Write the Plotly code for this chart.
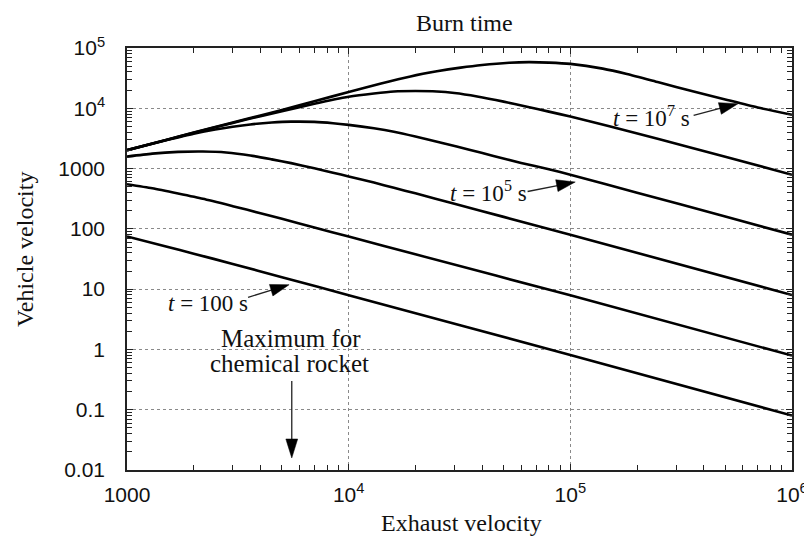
import plotly.graph_objects as go
import math

# ---------------- data ----------------
burn_times = ["100 s", "1000 s", "1e4 s", "1e5 s", "1e6 s", "1e7 s"]

u_t100 = [1000, 1500, 2000, 3000, 5000, 10000, 100000, 1000000]
v_t100 = [75, 51, 38.8, 26.2, 15.8, 7.95, 0.81, 0.08]

u_t1e3 = [1000, 1300, 1700, 2200, 3000, 4000, 5000, 7000, 10000, 20000, 100000, 1000000]
v_t1e3 = [550, 470, 385, 315, 238, 182, 147, 105, 74.5, 37.8, 7.9, 0.79]

u_t1e4 = [1000, 1300, 1700, 2200, 2800, 3600, 4500, 5500, 7000, 8500, 10000, 13000,
          16000, 20000, 30000, 50000, 100000, 1000000]
v_t1e4 = [1580, 1770, 1890, 1920, 1850, 1650, 1420, 1230, 1010, 855, 740, 585,
          480, 388, 261, 158, 80, 8]

u_t1e5 = [1000, 1500, 2000, 2500, 3000, 3600, 4500, 5500, 7000, 8500, 10000, 13000,
          16000, 20000, 27000, 35000, 45000, 60000, 80000, 100000, 200000, 500000, 1000000]
v_t1e5 = [2020, 2950, 3800, 4450, 4950, 5400, 5800, 6000, 5950, 5650, 5300, 4650,
          4080, 3400, 2600, 2060, 1620, 1240, 975, 790, 398, 160, 80]

u_t1e6 = [1000, 1500, 2000, 3000, 4000, 5000, 7000, 10000, 13000, 16000, 20000, 25000,
          30000, 38000, 50000, 63000, 80000, 100000, 150000, 250000, 500000, 1000000]
v_t1e6 = [2020, 2980, 3920, 5720, 7400, 8950, 11900, 15500, 17600, 19000, 19300, 19000,
          17900, 15700, 12900, 10700, 8800, 7300, 5050, 3100, 1570, 790]

u_t1e7 = [1000, 1500, 2000, 3000, 4000, 5000, 7000, 10000, 14000, 19000, 25000, 32000,
          40000, 53000, 65000, 80000, 100000, 140000, 180000, 250000, 360000, 500000,
          700000, 1000000]
v_t1e7 = [2020, 2990, 3950, 5800, 7600, 9400, 13100, 18600, 25800, 33800, 41000, 47200,
          52300, 57000, 58300, 57300, 54500, 45500, 37000, 27000, 19000, 14000,
          10300, 7800]

x_tickvals = [1e3, 1e4, 1e5, 1e6]
x_ticktext = ["1000", "10<sup>4</sup>", "10<sup>5</sup>", "10<sup>6</sup>"]
y_tickvals = [0.01, 0.1, 1, 10, 100, 1000, 1e4, 1e5]
y_ticktext = ["0.01", "0.1", "1", "10", "100", "1000", "10<sup>4</sup>", "10<sup>5</sup>"]

# ---------------- layout geometry ----------------
W, H = 812, 541
L, R, T, B = 119, 19, 40, 79
PW, PH = W - L - R, H - T - B


def pxx(x):
    return (x - L) / PW


def pyy(y):
    return (H - B - y) / PH


SERIF = "Liberation Serif, Times New Roman, serif"
SANS = "Liberation Sans, Arial, Helvetica, sans-serif"

fig = go.Figure()
series = [(u_t100, v_t100), (u_t1e3, v_t1e3), (u_t1e4, v_t1e4),
          (u_t1e5, v_t1e5), (u_t1e6, v_t1e6), (u_t1e7, v_t1e7)]
for name, (u, v) in zip(burn_times, series):
    fig.add_trace(go.Scatter(
        x=u, y=v, mode="lines", name=name, showlegend=False, hoverinfo="skip",
        line=dict(color="black", width=2.6, shape="spline", smoothing=0.6)))

axis_common = dict(
    type="log", showline=True, linecolor="#222", linewidth=1.5, mirror="ticks",
    ticks="inside", ticklen=6, tickwidth=1.2, tickcolor="#222",
    showgrid=True, gridcolor="#8a8a8a", griddash="dot", gridwidth=1,
    zeroline=False, tickmode="array",
    tickfont=dict(family=SANS, size=21, color="#111"),
    minor=dict(ticks="inside", ticklen=5, tickwidth=1, tickcolor="#222",
               dtick="D1", showgrid=False),
)

fig.update_layout(
    width=W, height=H, margin=dict(l=L, r=R, t=T, b=B),
    paper_bgcolor="white", plot_bgcolor="white",
    xaxis=dict(axis_common, range=[3, 6], tickvals=x_tickvals, ticktext=x_ticktext,
               ticklabelstandoff=5),
    yaxis=dict(axis_common, range=[-2, 5], tickvals=y_tickvals, ticktext=y_ticktext,
               ticklabelstandoff=16),
)

annotations = []


def text_ann(text, x, y, size=24, angle=0):
    annotations.append(dict(
        text=text, x=pxx(x), y=pyy(y), xref="paper", yref="paper",
        xanchor="center", yanchor="middle", showarrow=False, textangle=angle,
        font=dict(family=SERIF, size=size, color="#111")))


text_ann("Burn time", 461, 15)
text_ann("Vehicle velocity", 15, 241.5, angle=-90)
text_ann("Exhaust velocity", 458, 515)
text_ann("<i>t</i> = 10<sup>7</sup> s", 651, 108, size=23)
text_ann("<i>t</i> = 10<sup>5</sup> s", 485, 183.5, size=23)
text_ann("<i>t</i> = 100 s", 201.5, 295, size=23)
text_ann("Maximum for", 285.5, 330, size=25)
text_ann("chemical rocket", 284, 355, size=25)

shapes = []


def arrow(tail, tip, head_len=19, half_w=6):
    sx, sy = tail
    tx, ty = tip
    dx, dy = tx - sx, ty - sy
    n = math.hypot(dx, dy)
    dx, dy = dx / n, dy / n
    bx, by = tx - head_len * dx, ty - head_len * dy
    nx, ny = -dy, dx
    shapes.append(dict(type="line", xref="paper", yref="paper",
                       x0=pxx(sx), y0=pyy(sy), x1=pxx(bx + 2 * dx), y1=pyy(by + 2 * dy),
                       line=dict(color="#222", width=1.3)))
    p1 = (bx + half_w * nx, by + half_w * ny)
    p2 = (bx - half_w * nx, by - half_w * ny)
    path = "M {:.5f},{:.5f} L {:.5f},{:.5f} L {:.5f},{:.5f} Z".format(
        pxx(tx), pyy(ty), pxx(p1[0]), pyy(p1[1]), pxx(p2[0]), pyy(p2[1]))
    shapes.append(dict(type="path", xref="paper", yref="paper", path=path,
                       fillcolor="black", line=dict(color="black", width=0.5)))


arrow((693.3, 107.3), (738.3, 95.7))
arrow((525, 183.5), (573.3, 174))
arrow((241.7, 289.3), (283.3, 276.7))
arrow((286, 373), (286, 450))

fig.update_layout(annotations=annotations, shapes=shapes)
fig.write_html("out.html")
